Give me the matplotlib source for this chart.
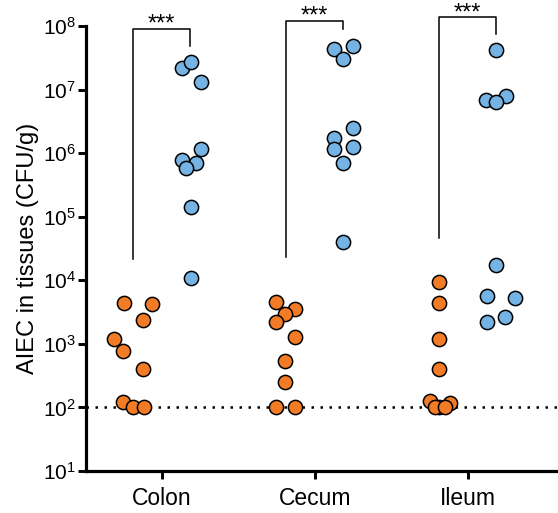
import numpy as np
import matplotlib
matplotlib.use("Agg")
import matplotlib.pyplot as plt
from matplotlib.ticker import FixedLocator, FuncFormatter, NullLocator

plt.rcParams['font.family'] = ['Liberation Sans', 'DejaVu Sans']
plt.rcParams['mathtext.fontset'] = 'custom'
plt.rcParams['mathtext.rm'] = 'Liberation Sans'

# AIEC counts (CFU/g) per tissue, control (orange) vs infected (blue)
tissues = ["Colon", "Cecum", "Ileum"]
control = [
    [4.4e3, 4.2e3, 2.4e3, 1.2e3, 7.8e2, 4.0e2, 1.23e2, 1.0e2, 1.0e2],
    [4.6e3, 3.5e3, 2.9e3, 2.2e3, 1.3e3, 5.4e2, 2.5e2, 1.0e2, 1.0e2],
    [9.4e3, 4.4e3, 1.2e3, 4.0e2, 1.26e2, 1.17e2, 1.0e2, 1.0e2, 1.0e2],
]
infected = [
    [2.2e7, 2.7e7, 1.3e7, 1.17e6, 7.8e5, 7.0e5, 5.9e5, 1.4e5, 1.1e4],
    [4.3e7, 4.9e7, 3.0e7, 2.5e6, 1.7e6, 1.17e6, 1.25e6, 7.0e5, 4.0e4],
    [4.2e7, 6.9e6, 7.9e6, 6.4e6, 1.74e4, 5.6e3, 5.3e3, 2.6e3, 2.2e3],
]
detection_limit = 1e2
stars = ["***", "***", "***"]

# horizontal spread of the dots inside each column (in pixels, roughly)
spread_control = [
    [-9, 20, 10, -20, -10, 10, -10, 0, 11],
    [-10, 9, -1, -10, 9, -1, -1, -10, 9],
    [0, 0, 0, 0, -10, 11, 0, -4, 6],
]
spread_infected = [
    [-9, 1, 11, 11, -9, 6, -4, 1, 1],
    [-10, 10, 0, 10, -10, -10, 10, 0, 0],
    [0, -11, 10, 0, 0, -10, 19, 9, -10],
]
# bracket tops (CFU/g)
bracket_top = [9.0e7, 1.2e8, 1.38e8]

orange = "#F27B25"
blue = "#74B3E3"
px = 1 / 158.0   # pixel -> x-data unit
half = 0.187

fig = plt.figure(figsize=(5.58, 5.13), dpi=100)
ax = fig.add_axes([86 / 558, 42 / 513, 472 / 558, 445 / 513])
ax.set_yscale("log")
ax.set_ylim(1e1, 1e8)
ax.set_xlim(0.506, 3.589)

for i in range(3):
    xc = i + 1
    xs = xc - half + np.array(spread_control[i]) * px
    ax.scatter(xs, control[i], s=105, c=orange, edgecolors="black",
               linewidths=1.1, zorder=4, clip_on=False)
    xs = xc + half + np.array(spread_infected[i]) * px
    ax.scatter(xs, infected[i], s=105, c=blue, edgecolors="black",
               linewidths=1.1, zorder=4, clip_on=False)

    # significance bracket
    y_left = max(control[i]) * 5
    y_right = max(infected[i]) * 1.8
    top = bracket_top[i]
    ax.plot([xc - half, xc - half, xc + half, xc + half],
            [y_left, top, top, y_right], color="black", lw=1.1,
            clip_on=False, zorder=3)
    ax.annotate(stars[i], (xc, top), xytext=(0, -5), textcoords="offset points",
                ha="center", va="bottom", fontsize=17, annotation_clip=False)

ax.axhline(detection_limit, color="black", lw=1.8, ls=(0, (1, 2.6)), zorder=2)

for side in ["top", "right"]:
    ax.spines[side].set_visible(False)
for side in ["left", "bottom"]:
    ax.spines[side].set_linewidth(2.3)

ax.yaxis.set_major_locator(FixedLocator([10.0 ** k for k in range(1, 9)]))
ax.yaxis.set_minor_locator(NullLocator())
ax.yaxis.set_major_formatter(FuncFormatter(
    lambda v, p: r"$\mathregular{10^{%d}}$" % round(np.log10(v))))
ax.tick_params(axis="y", length=6, width=2.1, labelsize=15, pad=1)

ax.set_xticks([1, 2, 3])
ax.set_xticklabels(tissues)
ax.tick_params(axis="x", length=5.5, width=2.1, labelsize=16.5, pad=6)

ax.set_ylabel("AIEC in tissues (CFU/g)", fontsize=17, labelpad=3)

fig.savefig("out.png", dpi=100)
